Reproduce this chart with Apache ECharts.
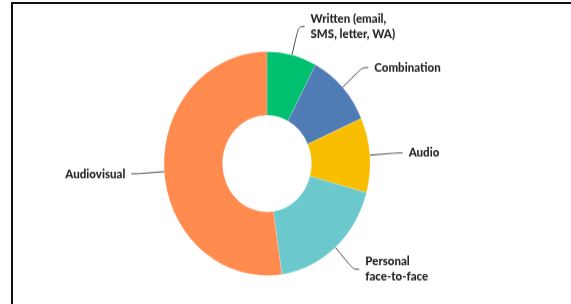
<!DOCTYPE html>
<html>
<head>
<meta charset="utf-8">
<script src="https://cdn.jsdelivr.net/npm/echarts@6/dist/echarts.min.js"></script>
<style>
  html, body { margin: 0; padding: 0; background: #fff; }
  #wrap { position: relative; width: 571px; height: 304px; overflow: hidden; background: #fff; }
  #frame { position: absolute; left: 11px; top: 2px; width: 600px; height: 340px;
           border-left: 2px solid #111; border-top: 2px solid #111; box-sizing: border-box; }
  #chart { position: absolute; left: 0; top: 0; width: 571px; height: 280px;
           transform: scaleY(1.087); transform-origin: 0 0; }
</style>
</head>
<body>
<div id="wrap">
  <div id="frame"></div>
  <div id="chart"></div>
</div>
<script>
const categories = ['Written (email,\nSMS, letter, WA)', 'Combination', 'Audio', 'Personal\nface-to-face', 'Audiovisual'];
const values = [7.8, 10.6, 10.8, 18.5, 52.3];
const colors = ['#00BF6F', '#507CB6', '#F9BE00', '#6BC8CD', '#FF8B4F'];

const chart = echarts.init(document.getElementById('chart'), null, { renderer: 'canvas' });
chart.setOption({
  animation: false,
  backgroundColor: 'transparent',
  series: [{
    type: 'pie',
    center: [267, 150.5],
    radius: [44.5, 103],
    startAngle: 90,
    clockwise: true,
    avoidLabelOverlap: false,
    data: categories.map((c, i) => ({ name: c, value: values[i], itemStyle: { color: colors[i] } })),
    itemStyle: { borderColor: 'rgba(255,255,255,0.35)', borderWidth: 0.5 },
    label: {
      show: true,
      position: 'outside',
      formatter: '{b}',
      color: '#262626',
      fontFamily: 'Lato',
      fontWeight: 900,
      fontSize: 11.5,
      lineHeight: 14,
      distanceToLabelLine: 6
    },
    labelLine: {
      show: true,
      length: 27,
      length2: 6,
      smooth: 0.4,
      lineStyle: { color: '#4a4a4a', width: 1 }
    }
  }]
});
</script>
</body>
</html>
